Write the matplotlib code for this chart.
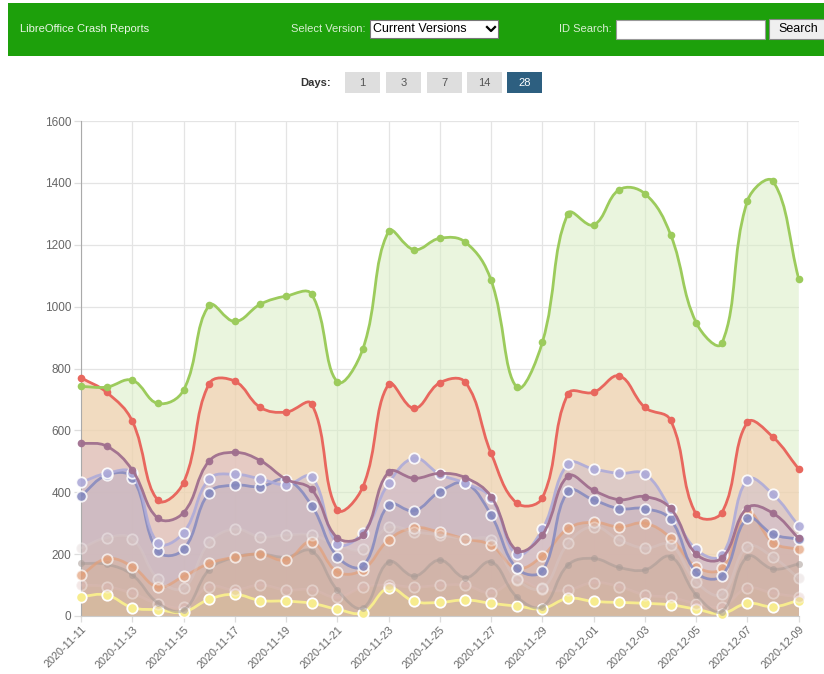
import numpy as np
import matplotlib
matplotlib.use("Agg")
import matplotlib.pyplot as plt
from matplotlib.path import Path
from matplotlib.patches import PathPatch, Rectangle

plt.rcParams['font.family'] = ['Liberation Sans', 'DejaVu Sans']

# ---------------- data ----------------
dates = ["2020-11-11", "2020-11-12", "2020-11-13", "2020-11-14", "2020-11-15",
         "2020-11-16", "2020-11-17", "2020-11-18", "2020-11-19", "2020-11-20",
         "2020-11-21", "2020-11-22", "2020-11-23", "2020-11-24", "2020-11-25",
         "2020-11-26", "2020-11-27", "2020-11-28", "2020-11-29", "2020-11-30",
         "2020-12-01", "2020-12-02", "2020-12-03", "2020-12-04", "2020-12-05",
         "2020-12-06", "2020-12-07", "2020-12-08", "2020-12-09"]

green = [742, 740, 762, 687, 730, 1004, 952, 1008, 1034, 1040, 757, 864, 1243, 1184,
         1221, 1208, 1085, 739, 885, 1301, 1264, 1378, 1365, 1233, 948, 881, 1342, 1405, 1090]
red = [770, 723, 630, 374, 431, 751, 759, 674, 659, 685, 344, 418, 749, 671, 754,
       755, 526, 365, 382, 718, 723, 776, 674, 633, 329, 334, 626, 578, 475]
mauve = [559, 549, 472, 316, 334, 501, 529, 502, 442, 409, 253, 262, 465, 445, 461,
         447, 386, 212, 262, 452, 406, 376, 386, 348, 200, 187, 350, 332, 251]
lavender = [432, 461, 461, 236, 269, 443, 458, 443, 424, 449, 234, 269, 429, 510, 458,
            429, 382, 199, 280, 492, 475, 461, 459, 347, 215, 196, 441, 393, 291]
slate = [388, 455, 447, 209, 215, 399, 423, 418, 441, 357, 192, 162, 359, 340, 402,
         429, 326, 154, 146, 403, 375, 347, 347, 312, 141, 130, 316, 264, 248]
silver = [219, 253, 250, 120, 90, 238, 281, 256, 262, 262, 230, 215, 287, 272, 262,
          250, 245, 120, 90, 235, 289, 246, 219, 230, 110, 70, 224, 190, 122]
orange = [131, 185, 160, 94, 128, 170, 190, 200, 181, 240, 143, 150, 246, 285, 271,
          249, 229, 154, 194, 283, 303, 288, 300, 253, 159, 154, 335, 237, 215]
gray = [170, 167, 133, 42, 19, 150, 190, 200, 190, 210, 84, 26, 175, 129, 181,
        124, 175, 62, 30, 165, 186, 157, 149, 192, 68, 14, 192, 152, 168]
pink = [100, 95, 73, 40, 30, 95, 84, 100, 84, 85, 60, 93, 100, 93, 99,
        99, 75, 116, 86, 84, 108, 95, 68, 60, 40, 30, 90, 73, 62]
yellow = [63, 68, 27, 20, 13, 54, 70, 50, 48, 41, 22, 11, 90, 47, 44,
          52, 41, 32, 24, 57, 47, 44, 41, 36, 22, 8, 41, 30, 50]

y_ticks = [0, 200, 400, 600, 800, 1000, 1200, 1400, 1600]
day_buttons = ["1", "3", "7", "14", "28"]

# series styling: (values, line color, fill color, marker size, white edge, line alpha)
series = [
    (green,    '#9CCB5C', '#D9EEC4', 5.5, False, 1.0),
    (red,      '#E8675E', '#F8C7A8', 5.5, False, 1.0),
    (mauve,    '#A06F8E', '#DCBCC6', 5.5, False, 0.95),
    (lavender, '#AEABD9', '#CDBDCB', 7.5, True, 0.9),
    (slate,    '#8489BF', '#C9B6BE', 7.5, True, 0.85),
    (silver,   '#D9CBCB', '#D2BBBA', 7.5, True, 0.35),
    (orange,   '#E3A07A', '#D9B4A2', 7.5, True, 0.7),
    (gray,     '#A89B96', '#CFB2A6', 5.0, False, 0.55),
    (pink,     '#DDBBB8', '#D4B4A2', 7.5, True, 0.35),
    (yellow,   '#F7EC8E', '#D8BE9C', 7.5, True, 1.0),
]

W, H = 824, 674
fig = plt.figure(figsize=(W / 100, H / 100), dpi=100)
fig.patch.set_facecolor('white')

# ---------------- page chrome (pixel overlay) ----------------
ov = fig.add_axes([0, 0, 1, 1], zorder=0)
ov.set_xlim(0, W)
ov.set_ylim(H, 0)
ov.axis('off')
ov.add_patch(Rectangle((8, 3), W - 8, 53, color='#1DA00B', lw=0))
ov.text(20, 29.5, "LibreOffice Crash Reports", color='#EAF6E6', fontsize=8, va='center', ha='left')
ov.text(366, 29.5, "Select Version:", color='#D9EED3', fontsize=8, va='center', ha='right')
ov.add_patch(Rectangle((370, 20), 128, 18, facecolor='white', edgecolor='#777777', lw=0.8))
ov.text(373, 29.5, "Current Versions", color='black', fontsize=9, va='center', ha='left')
ov.plot([487, 491, 495], [27, 31, 27], color='black', lw=1.6)
ov.text(612, 29.5, "ID Search:", color='#D9EED3', fontsize=8, va='center', ha='right')
ov.add_patch(Rectangle((616, 20), 149, 19, facecolor='white', edgecolor='#999999', lw=0.8))
ov.add_patch(Rectangle((769, 19), 60, 20, facecolor='#EFEFEF', edgecolor='#888888', lw=0.8))
ov.text(798, 29.5, "Search", color='black', fontsize=9, va='center', ha='center')

ov.text(331, 83, "Days:", color='#333333', fontsize=8, fontweight='bold', va='center', ha='right')
bx = [345, 386, 427, 467, 507]
for x0, lab in zip(bx, day_buttons):
    active = lab == "28"
    ov.add_patch(Rectangle((x0, 72), 35, 21, color='#2D5F80' if active else '#DEDEDE', lw=0))
    ov.text(x0 + 17.5, 83, lab, color='white' if active else '#555555', fontsize=8,
            va='center', ha='center')

# ---------------- chart ----------------
L, R, T, B = 81, 798.7, 121, 616
ax = fig.add_axes([L / W, 1 - B / H, (R - L) / W, (B - T) / H], zorder=1)
ax.patch.set_alpha(0)
x = np.arange(len(dates))
ax.set_xlim(0, len(dates) - 1)
ax.set_ylim(0, 1600)


def spline_path(xs, ys, t=0.4):
    pts = ax.transData.transform(np.column_stack([xs, ys]))
    n = len(pts)
    ylo, yhi = ax.transData.transform([[0, 0], [0, 1600]])[:, 1]
    cp_prev = np.zeros_like(pts)
    cp_next = np.zeros_like(pts)
    for i in range(n):
        prev = pts[i - 1] if i > 0 else pts[i]
        cur = pts[i]
        nxt = pts[i + 1] if i < n - 1 else pts[i]
        d01 = np.hypot(*(cur - prev))
        d12 = np.hypot(*(nxt - cur))
        s = d01 + d12
        s01 = d01 / s if s else 0
        s12 = d12 / s if s else 0
        cp_prev[i] = cur - t * s01 * (nxt - prev)
        cp_next[i] = cur + t * s12 * (nxt - prev)
    cp_prev[:, 1] = np.clip(cp_prev[:, 1], ylo, yhi)
    cp_next[:, 1] = np.clip(cp_next[:, 1], ylo, yhi)
    verts = [pts[0]]
    codes = [Path.MOVETO]
    for i in range(n - 1):
        verts += [cp_next[i], cp_prev[i + 1], pts[i + 1]]
        codes += [Path.CURVE4] * 3
    verts = ax.transData.inverted().transform(np.array(verts))
    return verts, codes


# grid
for yv in y_ticks:
    ax.axhline(yv, color='#E4E4E4', lw=0.9, zorder=0.5)
for xv in x[::2]:
    ax.axvline(xv, color='#E4E4E4', lw=0.9, zorder=0.5)

# fills (top series first, lower ones stacked over)
for k, (vals, lc, fc, ms, edge, la) in enumerate(series):
    verts, codes = spline_path(x, vals)
    fverts = np.vstack([verts, [[x[-1], 0], [x[0], 0], [x[0], 0]]])
    fcodes = codes + [Path.LINETO, Path.LINETO, Path.CLOSEPOLY]
    ax.add_patch(PathPatch(Path(fverts, fcodes), facecolor=fc, edgecolor='none',
                           alpha=0.55, zorder=1 + k * 0.01))

# lines and points (bottom series first, top series drawn last)
for k, (vals, lc, fc, ms, edge, la) in reversed(list(enumerate(series))):
    verts, codes = spline_path(x, vals)
    ax.add_patch(PathPatch(Path(verts, codes), facecolor='none', edgecolor=lc, lw=2.0,
                           alpha=la, zorder=3 + (10 - k) * 0.1))
    ax.plot(x, vals, 'o', ms=ms, color=lc, alpha=la,
            mec='white' if edge else lc, mew=1.3 if edge else 0,
            zorder=3.05 + (10 - k) * 0.1, clip_on=False)

for s in ['top', 'right']:
    ax.spines[s].set_visible(False)
ax.spines['left'].set_color('#AAAAAA')
ax.spines['bottom'].set_color('#CCCCCC')
ax.set_yticks(y_ticks)
ax.set_yticklabels([str(v) for v in y_ticks])
ax.set_xticks(x[::2])
ax.set_xticklabels(dates[::2], rotation=45, ha='right', va='top', rotation_mode='anchor')
ax.tick_params(axis='both', colors='#DDDDDD', labelcolor='#666666', labelsize=8.5,
               length=5, width=0.9)
ax.tick_params(axis='x', labelsize=7.8, pad=2, length=4)
ax.tick_params(axis='y', pad=2)

fig.savefig('out.png', dpi=100)
